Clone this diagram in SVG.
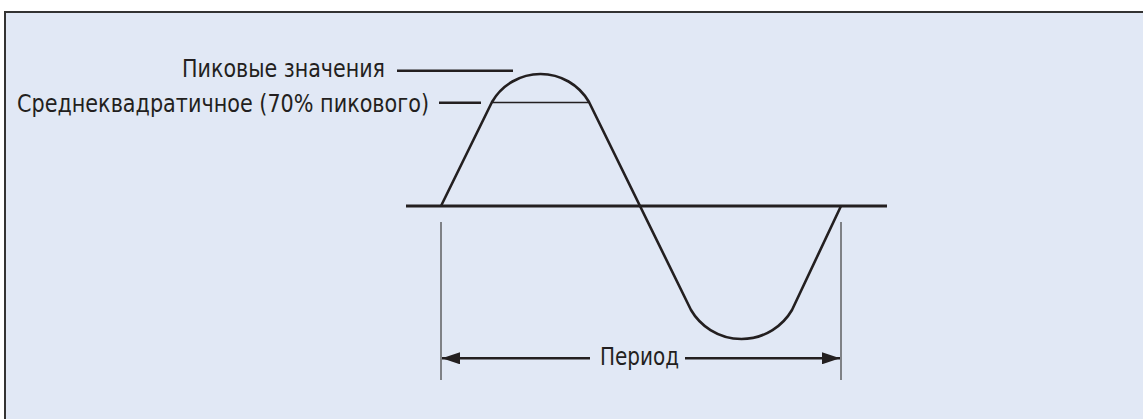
<svg xmlns="http://www.w3.org/2000/svg" width="1143" height="419" viewBox="0 0 1143 419">
  <defs>
    <style>
      .lbl { font-family: "DejaVu Sans", "Liberation Sans", sans-serif; font-size: 24px; fill: #231f20; }
      .wave { fill: none; stroke: #231f20; stroke-width: 2.6; stroke-linejoin: round; }
      .lead { stroke: #231f20; stroke-width: 2.4; }
      .tick { stroke: #4a4a4a; stroke-width: 1.3; }
      .dim { stroke: #231f20; stroke-width: 2.4; }
    </style>
    <marker id="arrowEnd" viewBox="0 0 18 12" refX="18" refY="6" markerWidth="18" markerHeight="12" markerUnits="userSpaceOnUse" orient="auto">
      <path d="M0,0 L18,6 L0,12 Z" fill="#231f20"/>
    </marker>
    <marker id="arrowStart" viewBox="0 0 18 12" refX="0" refY="6" markerWidth="18" markerHeight="12" markerUnits="userSpaceOnUse" orient="auto">
      <path d="M18,0 L0,6 L18,12 Z" fill="#231f20"/>
    </marker>
  </defs>

  <rect x="5" y="12" width="1145" height="420" fill="#e1e8f5" stroke="#333333" stroke-width="2"/>

  <g id="waveform">
    <line x1="406" y1="206" x2="887" y2="206" stroke="#231f20" stroke-width="3"/>
    <path class="wave" d="M441,206 L492,102 A56,56 0 0 1 589,102 L691,310 A58.5,58.5 0 0 0 792,310 L841,206"/>
    <line x1="492" y1="102.5" x2="589" y2="102.5" stroke="#231f20" stroke-width="1.6"/>
  </g>

  <g id="label-peak">
    <text class="lbl" x="182" y="77" textLength="203" lengthAdjust="spacingAndGlyphs">Пиковые значения</text>
  </g>
  <g id="label-rms">
    <text class="lbl" x="17" y="111.5" textLength="412" lengthAdjust="spacingAndGlyphs">Среднеквадратичное (70% пикового)</text>
  </g>
  <g id="label-period">
    <text class="lbl" x="600" y="365" textLength="79" lengthAdjust="spacingAndGlyphs">Период</text>
  </g>

  <g id="connectors">
    <line class="lead" x1="397" y1="70.7" x2="513" y2="70.7"/>
    <line class="lead" x1="439" y1="102.7" x2="481" y2="102.7"/>
    <line class="tick" x1="441" y1="222" x2="441" y2="380"/>
    <line class="tick" x1="841" y1="222" x2="841" y2="380"/>
    <line class="dim" x1="442" y1="358.3" x2="590" y2="358.3" marker-start="url(#arrowStart)"/>
    <line class="dim" x1="685" y1="358.3" x2="840" y2="358.3" marker-end="url(#arrowEnd)"/>
  </g>
</svg>
